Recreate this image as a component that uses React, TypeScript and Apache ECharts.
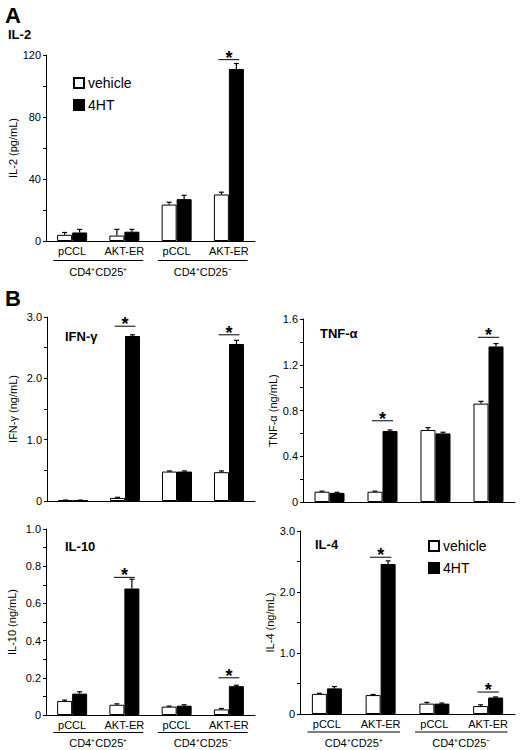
import React, { useEffect, useRef } from 'react';
import * as echarts from 'echarts';

const categories = ['pCCL', 'AKT-ER', 'pCCL', 'AKT-ER'];
const groupStart = [0, 2];
const groupEnd = [1, 3];
const groupLabels = ['CD4⁺CD25⁺', 'CD4⁺CD25⁻'];
const seriesNames = ['vehicle', '4HT'];

// IL-2 (pg/mL)
const il2Vehicle = [4, 3.5, 23.5, 30];
const il2Treated = [5.5, 6, 27, 111];
const il2VehicleErr = [1.5, 4, 1.5, 1.5];
const il2TreatedErr = [2, 1.5, 2.5, 3.5];
const il2SigCats = [3];
const il2SigLevels = [117];
const il2Ticks = [0, 120, 40];

// IFN-γ (ng/mL)
const ifnVehicle = [0.01, 0.05, 0.48, 0.47];
const ifnTreated = [0.01, 2.69, 0.48, 2.56];
const ifnVehicleErr = [0.005, 0.01, 0.01, 0.02];
const ifnTreatedErr = [0.005, 0.02, 0.01, 0.06];
const ifnSigCats = [1, 3];
const ifnSigLevels = [2.85, 2.71];
const ifnTicks = [0, 3, 1];

// TNF-α (ng/mL)
const tnfVehicle = [0.09, 0.09, 0.63, 0.86];
const tnfTreated = [0.08, 0.62, 0.6, 1.36];
const tnfVehicleErr = [0.005, 0.005, 0.02, 0.02];
const tnfTreatedErr = [0.005, 0.01, 0.01, 0.025];
const tnfSigCats = [1, 3];
const tnfSigLevels = [0.71, 1.44];
const tnfTicks = [0, 1.6, 0.4];

// IL-10 (ng/mL)
const il10Vehicle = [0.075, 0.055, 0.045, 0.03];
const il10Treated = [0.115, 0.68, 0.05, 0.155];
const il10VehicleErr = [0.005, 0.005, 0.003, 0.005];
const il10TreatedErr = [0.01, 0.05, 0.005, 0.005];
const il10SigCats = [1, 3];
const il10SigLevels = [0.74, 0.2];
const il10Ticks = [0, 1, 0.2];

// IL-4 (ng/mL)
const il4Vehicle = [0.33, 0.31, 0.17, 0.13];
const il4Treated = [0.42, 2.46, 0.17, 0.27];
const il4VehicleErr = [0.01, 0.01, 0.02, 0.02];
const il4TreatedErr = [0.03, 0.05, 0.01, 0.01];
const il4SigCats = [1, 3];
const il4SigLevels = [2.57, 0.36];
const il4Ticks = [0, 3, 1];

const FONT = 'Liberation Sans, Arial, sans-serif';
const BAR_W = 15;

type Panel = {
  grid: { left: number; top: number; width: number; height: number };
  ticks: number[];
  decimals: boolean;
  yName: string;
  nameGap: number;
  vehicle: number[];
  treated: number[];
  vErr: number[];
  tErr: number[];
  sigCats: number[];
  sigLevels: number[];
  showCats: boolean;
  lineGap: number;
  labelGap: number;
};

const panels: Panel[] = [
  { grid: { left: 46, top: 55, width: 209, height: 186 }, ticks: il2Ticks, decimals: false, yName: 'IL-2 (pg/mL)', nameGap: 28,
    vehicle: il2Vehicle, treated: il2Treated, vErr: il2VehicleErr, tErr: il2TreatedErr, sigCats: il2SigCats, sigLevels: il2SigLevels, showCats: true, lineGap: 19.5, labelGap: 31 },
  { grid: { left: 47, top: 317, width: 208, height: 184 }, ticks: ifnTicks, decimals: true, yName: 'IFN-γ (ng/mL)', nameGap: 29,
    vehicle: ifnVehicle, treated: ifnTreated, vErr: ifnVehicleErr, tErr: ifnTreatedErr, sigCats: ifnSigCats, sigLevels: ifnSigLevels, showCats: false, lineGap: 0, labelGap: 0 },
  { grid: { left: 303, top: 319, width: 212, height: 183 }, ticks: tnfTicks, decimals: true, yName: 'TNF-α (ng/mL)', nameGap: 25,
    vehicle: tnfVehicle, treated: tnfTreated, vErr: tnfVehicleErr, tErr: tnfTreatedErr, sigCats: tnfSigCats, sigLevels: tnfSigLevels, showCats: false, lineGap: 0, labelGap: 0 },
  { grid: { left: 46, top: 529, width: 209, height: 186 }, ticks: il10Ticks, decimals: true, yName: 'IL-10 (ng/mL)', nameGap: 29,
    vehicle: il10Vehicle, treated: il10Treated, vErr: il10VehicleErr, tErr: il10TreatedErr, sigCats: il10SigCats, sigLevels: il10SigLevels, showCats: true, lineGap: 17.5, labelGap: 27.5 },
  { grid: { left: 300, top: 531, width: 215, height: 183 }, ticks: il4Ticks, decimals: true, yName: 'IL-4 (ng/mL)', nameGap: 24,
    vehicle: il4Vehicle, treated: il4Treated, vErr: il4VehicleErr, tErr: il4TreatedErr, sigCats: il4SigCats, sigLevels: il4SigLevels, showCats: true, lineGap: 18, labelGap: 28.5 },
];

function buildOption() {
  const grids: any[] = [];
  const xAxes: any[] = [];
  const yAxes: any[] = [];
  const series: any[] = [];

  panels.forEach((p, i) => {
    grids.push({ ...p.grid, containLabel: false });
    xAxes.push({
      type: 'category',
      gridIndex: i,
      data: categories,
      axisLine: { lineStyle: { color: '#000', width: 1 } },
      axisTick: { show: false },
      axisLabel: { show: p.showCats, color: '#000', fontSize: 11, margin: 4, fontFamily: FONT, interval: 0 },
      splitLine: { show: false },
    });
    yAxes.push({
      type: 'value',
      gridIndex: i,
      min: p.ticks[0],
      max: p.ticks[1],
      interval: p.ticks[2],
      name: p.yName,
      nameLocation: 'middle',
      nameGap: p.nameGap,
      nameTextStyle: { color: '#000', fontSize: 11, fontFamily: FONT },
      axisLine: { show: true, lineStyle: { color: '#000', width: 1 } },
      axisTick: { show: true, length: 3, lineStyle: { color: '#000' } },
      minorTick: { show: true, splitNumber: 2, length: 3, lineStyle: { color: '#000' } },
      axisLabel: {
        color: '#000',
        fontSize: 11,
        margin: 5,
        fontFamily: FONT,
        formatter: (v: number) => (v === 0 ? '0' : p.decimals ? v.toFixed(1) : String(v)),
      },
      splitLine: { show: false },
    });
    series.push({
      type: 'bar',
      name: seriesNames[0],
      xAxisIndex: i,
      yAxisIndex: i,
      data: p.vehicle,
      barWidth: BAR_W,
      barGap: '0%',
      itemStyle: { color: '#fff', borderColor: '#000', borderWidth: 1 },
    });
    series.push({
      type: 'bar',
      name: seriesNames[1],
      xAxisIndex: i,
      yAxisIndex: i,
      data: p.treated,
      barWidth: BAR_W,
      barGap: '0%',
      itemStyle: { color: '#000', borderColor: '#000', borderWidth: 1 },
    });
    const errData = [
      ...p.vehicle.map((v, k) => [k, v, p.vErr[k], -1]),
      ...p.treated.map((v, k) => [k, v, p.tErr[k], 1]),
    ];
    series.push({
      type: 'custom',
      name: 'err' + i,
      xAxisIndex: i,
      yAxisIndex: i,
      clip: false,
      z: 5,
      data: errData,
      renderItem: (_params: any, api: any) => {
        const x = api.value(0);
        const v = api.value(1);
        const e = api.value(2);
        const side = api.value(3);
        const a = api.coord([x, v]);
        const b = api.coord([x, v + e]);
        const cx = a[0] + side * (BAR_W / 2);
        return {
          type: 'group',
          children: [
            { type: 'line', shape: { x1: cx, y1: a[1], x2: cx, y2: b[1] }, style: { stroke: '#000', lineWidth: 1.2 } },
            { type: 'line', shape: { x1: cx - 2.5, y1: b[1], x2: cx + 2.5, y2: b[1] }, style: { stroke: '#000', lineWidth: 1.2 } },
          ],
        };
      },
    });
    series.push({
      type: 'custom',
      name: 'sig' + i,
      xAxisIndex: i,
      yAxisIndex: i,
      clip: false,
      data: p.sigCats.map((c, k) => [c, p.sigLevels[k]]),
      renderItem: (_params: any, api: any) => {
        const pt = api.coord([api.value(0), api.value(1)]);
        const band = api.size([1, 0])[0];
        return {
          type: 'group',
          children: [
            { type: 'line', shape: { x1: pt[0] - 0.2 * band, y1: pt[1], x2: pt[0] + 0.2 * band, y2: pt[1] }, style: { stroke: '#000', lineWidth: 1 } },
            { type: 'text', x: pt[0], y: pt[1] - 2, style: { text: '*', fill: '#000', fontSize: 18, fontWeight: 'bold', fontFamily: FONT, align: 'center', verticalAlign: 'middle' } },
          ],
        };
      },
    });
    if (p.showCats) {
      series.push({
        type: 'custom',
        name: 'grp' + i,
        xAxisIndex: i,
        yAxisIndex: i,
        clip: false,
        encode: { x: [0, 1], y: 2 },
        data: groupStart.map((s, k) => [s, groupEnd[k], 0]),
        renderItem: (params: any, api: any) => {
          const s = api.coord([api.value(0), 0]);
          const e = api.coord([api.value(1), 0]);
          const band = api.size([1, 0])[0];
          return {
            type: 'group',
            children: [
              { type: 'line', shape: { x1: s[0] - 0.36 * band, y1: s[1] + p.lineGap, x2: e[0] + 0.36 * band, y2: s[1] + p.lineGap }, style: { stroke: '#000', lineWidth: 1 } },
              { type: 'text', x: (s[0] + e[0]) / 2, y: s[1] + p.labelGap, style: { text: groupLabels[params.dataIndex], fill: '#000', fontSize: 11, fontFamily: FONT, align: 'center', verticalAlign: 'middle' } },
            ],
          };
        },
      });
    }
  });

  const legendBase = {
    data: seriesNames,
    orient: 'vertical',
    icon: 'rect',
    itemWidth: 10,
    itemHeight: 10,
    itemGap: 8,
    padding: 0,
    selectedMode: false,
    textStyle: { color: '#000', fontSize: 14, fontFamily: FONT, padding: [0, 0, 0, -1] },
  };

  const titleStyle = (size: number) => ({ color: '#000', fontSize: size, fontWeight: 'bold', fontFamily: FONT });

  return {
    animation: false,
    backgroundColor: '#fff',
    textStyle: { fontFamily: FONT },
    title: [
      { text: 'A', left: 5, top: 4, padding: 0, textStyle: titleStyle(22) },
      { text: 'IL-2', left: 8, top: 28, padding: 0, textStyle: titleStyle(13) },
      { text: 'B', left: 5, top: 287, padding: 0, textStyle: titleStyle(22) },
      { text: 'IFN-γ', left: 65, top: 330, padding: 0, textStyle: titleStyle(13) },
      { text: 'TNF-α', left: 320, top: 327, padding: 0, textStyle: titleStyle(13) },
      { text: 'IL-10', left: 65, top: 540, padding: 0, textStyle: titleStyle(13) },
      { text: 'IL-4', left: 315, top: 538, padding: 0, textStyle: titleStyle(13) },
    ],
    legend: [
      { ...legendBase, left: 73, top: 76 },
      { ...legendBase, left: 428, top: 539 },
    ],
    grid: grids,
    xAxis: xAxes,
    yAxis: yAxes,
    series,
  };
}

export default function App() {
  const ref = useRef<HTMLDivElement>(null);
  useEffect(() => {
    document.body.style.margin = '0';
    if (!ref.current) return;
    const chart = echarts.init(ref.current, undefined, { renderer: 'svg' });
    chart.setOption(buildOption() as any);
    return () => chart.dispose();
  }, []);
  return <div ref={ref} style={{ width: 520, height: 750 }} />;
}
